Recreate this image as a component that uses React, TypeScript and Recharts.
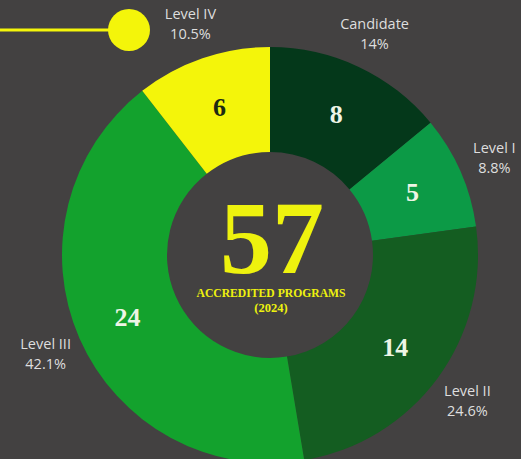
import React from "react";
import { PieChart, Pie, Cell } from "recharts";

const categories = ["Candidate", "Level I", "Level II", "Level III", "Level IV"];
const counts = [8, 5, 14, 24, 6];
const percentLabels = ["14%", "8.8%", "24.6%", "42.1%", "10.5%"];
const colors = ["#04381a", "#0c9a46", "#145d21", "#13a22d", "#f4f50a"];
const valueColors = ["#eef5e6", "#eef5e6", "#eef5e6", "#eef5e6", "#1c2a12"];
const totalLabel = "57";
const subtitle = "ACCREDITED PROGRAMS";
const yearLabel = "(2024)";

const data = categories.map((name, i) => ({ name, value: counts[i], pct: percentLabels[i] }));

const BG = "#434141";
const RAD = Math.PI / 180;

const renderLabel = (props: any) => {
  const { cx, cy, midAngle, innerRadius, outerRadius, index } = props;
  const rMid = (innerRadius + outerRadius) / 2;
  const vx = cx + rMid * Math.cos(-midAngle * RAD);
  const vy = cy + rMid * Math.sin(-midAngle * RAD);
  const rName = outerRadius + 37;
  const nx = cx + rName * Math.cos(-midAngle * RAD);
  const ny = cy + rName * Math.sin(-midAngle * RAD);
  return (
    <g>
      <text
        x={vx}
        y={vy}
        textAnchor="middle"
        dominantBaseline="central"
        fill={valueColors[index]}
        style={{ fontFamily: "'Liberation Serif', serif", fontWeight: 700, fontSize: 26 }}
      >
        {data[index].value}
      </text>
      <text
        x={nx}
        textAnchor="middle"
        fill="#dedede"
        style={{ fontFamily: "'Open Sans', sans-serif", fontSize: 14.5 }}
      >
        <tspan x={nx} y={ny - 4}>{data[index].name}</tspan>
        <tspan x={nx} y={ny + 16}>{data[index].pct}</tspan>
      </text>
    </g>
  );
};

export default function App() {
  return (
    <div style={{ position: "absolute", left: 0, top: 0, width: 521, height: 459, background: BG, overflow: "hidden" }}>
      <PieChart width={521} height={459}>
        <Pie
          data={data}
          dataKey="value"
          nameKey="name"
          cx={265}
          cy={250}
          innerRadius={103}
          outerRadius={208}
          startAngle={90}
          endAngle={-270}
          stroke="none"
          isAnimationActive={false}
          label={renderLabel}
          labelLine={false}
        >
          {data.map((d, i) => (
            <Cell key={d.name} fill={colors[i]} />
          ))}
        </Pie>
      </PieChart>
      <svg width={521} height={459} style={{ position: "absolute", left: 0, top: 0, pointerEvents: "none" }}>
        <line x1={0} y1={30} x2={115} y2={30} stroke={colors[4]} strokeWidth={3} />
        <circle cx={129} cy={30} r={21} fill={colors[4]} />
        <text
          x={272}
          y={273}
          textAnchor="middle"
          fill="#eef20e"
          style={{ fontFamily: "'Liberation Serif', serif", fontWeight: 700, fontSize: 104 }}
        >
          {totalLabel}
        </text>
        <text
          x={271}
          y={297}
          textAnchor="middle"
          fill="#eef20e"
          textLength={149}
          lengthAdjust="spacingAndGlyphs"
          style={{ fontFamily: "'Liberation Serif', serif", fontWeight: 700, fontSize: 12.5 }}
        >
          {subtitle}
        </text>
        <text
          x={271}
          y={312}
          textAnchor="middle"
          fill="#eef20e"
          style={{ fontFamily: "'Liberation Serif', serif", fontWeight: 700, fontSize: 12.5 }}
        >
          {yearLabel}
        </text>
      </svg>
    </div>
  );
}
